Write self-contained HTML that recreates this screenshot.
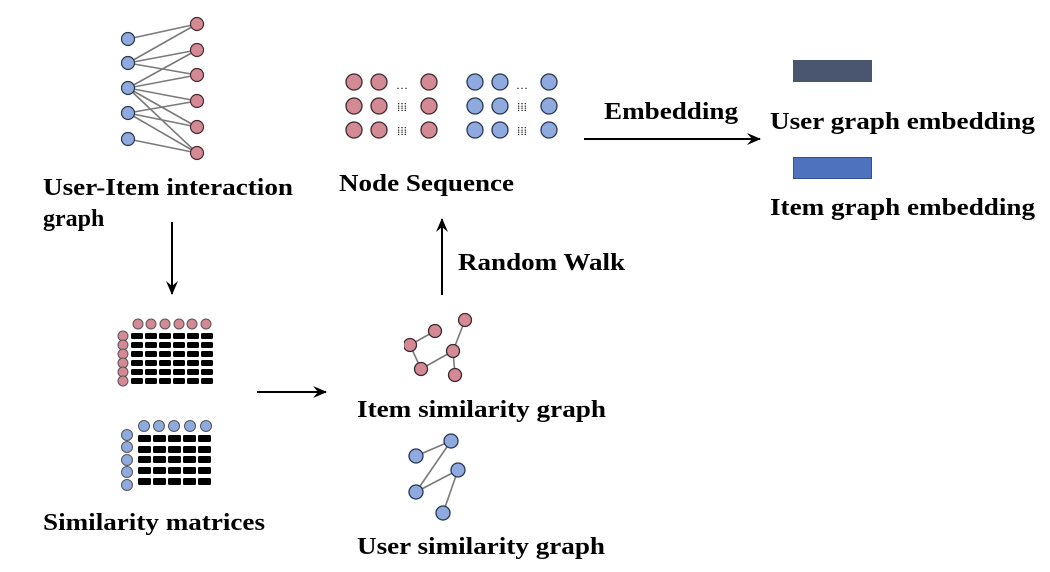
<!DOCTYPE html>
<html><head><meta charset="utf-8"><style>html,body{margin:0;padding:0;background:#fff}svg{display:block}</style></head>
<body>
<svg width="1050" height="572" viewBox="0 0 1050 572" xmlns="http://www.w3.org/2000/svg" font-family="Liberation Serif, serif" font-weight="bold" font-size="24">
<defs>
<marker id="ah" markerWidth="16" markerHeight="14" refX="13" refY="7" orient="auto" markerUnits="userSpaceOnUse">
<path d="M0,1 L14,7 L0,13 L5,7 Z" fill="#000"/>
</marker>
</defs>
<!-- bipartite -->
<g stroke="#7a7a7a" stroke-width="1.6">
<line x1="128" y1="39" x2="197" y2="24"/>
<line x1="128" y1="63" x2="197" y2="24"/>
<line x1="128" y1="63" x2="197" y2="50"/>
<line x1="128" y1="63" x2="197" y2="75"/>
<line x1="128" y1="88" x2="197" y2="50"/>
<line x1="128" y1="88" x2="197" y2="75"/>
<line x1="128" y1="88" x2="197" y2="101"/>
<line x1="128" y1="88" x2="197" y2="127"/>
<line x1="128" y1="88" x2="197" y2="153"/>
<line x1="128" y1="113" x2="197" y2="101"/>
<line x1="128" y1="113" x2="197" y2="127"/>
<line x1="128" y1="113" x2="197" y2="153"/>
<line x1="128" y1="139" x2="197" y2="153"/>
</g>
<g fill="#8eaadf" stroke="#2a3550" stroke-width="1.2">
<circle cx="128" cy="39" r="6.5"/><circle cx="128" cy="63" r="6.5"/><circle cx="128" cy="88" r="6.5"/><circle cx="128" cy="113" r="6.5"/><circle cx="128" cy="139" r="6.5"/>
</g>
<g fill="#d48a94" stroke="#4a2a2e" stroke-width="1.2">
<circle cx="197" cy="24" r="6.5"/><circle cx="197" cy="50" r="6.5"/><circle cx="197" cy="75" r="6.5"/><circle cx="197" cy="101" r="6.5"/><circle cx="197" cy="127" r="6.5"/><circle cx="197" cy="153" r="6.5"/>
</g>
<text x="43" y="195" textLength="250" lengthAdjust="spacingAndGlyphs">User-Item interaction</text>
<text x="43" y="226">graph</text>

<!-- node sequence -->
<g fill="#d48a94" stroke="#3a2a2c" stroke-width="1.3">
<circle cx="354" cy="82" r="8"/><circle cx="379" cy="82" r="8"/><circle cx="429" cy="82" r="8"/>
<circle cx="354" cy="106" r="8"/><circle cx="379" cy="106" r="8"/><circle cx="429" cy="106" r="8"/>
<circle cx="354" cy="130" r="8"/><circle cx="379" cy="130" r="8"/><circle cx="429" cy="130" r="8"/>
</g>
<g fill="#8eaadf" stroke="#2a3550" stroke-width="1.3">
<circle cx="475" cy="82" r="8"/><circle cx="500" cy="82" r="8"/><circle cx="549" cy="82" r="8"/>
<circle cx="475" cy="106" r="8"/><circle cx="500" cy="106" r="8"/><circle cx="549" cy="106" r="8"/>
<circle cx="475" cy="130" r="8"/><circle cx="500" cy="130" r="8"/><circle cx="549" cy="130" r="8"/>
</g>
<g font-size="12" font-weight="normal">
<text x="396" y="89">…</text><text x="397" y="111">⁞⁞⁞</text><text x="397" y="135">⁞⁞⁞</text>
<text x="516" y="89">…</text><text x="517" y="111">⁞⁞⁞</text><text x="517" y="135">⁞⁞⁞</text>
</g>
<text x="339" y="191" textLength="175" lengthAdjust="spacingAndGlyphs">Node Sequence</text>

<!-- embedding -->
<text x="604" y="119" textLength="134" lengthAdjust="spacingAndGlyphs">Embedding</text>
<line x1="584" y1="139" x2="760" y2="139" stroke="#000" stroke-width="2" marker-end="url(#ah)"/>
<rect x="793" y="60" width="79" height="22" fill="#4a5570"/>
<rect x="793.5" y="157.5" width="78" height="21" fill="#4e72bd" stroke="#34528f" stroke-width="1"/>
<text x="770" y="129" textLength="265" lengthAdjust="spacingAndGlyphs">User graph embedding</text>
<text x="770" y="215" textLength="265" lengthAdjust="spacingAndGlyphs">Item graph embedding</text>

<!-- arrows -->
<line x1="172" y1="222" x2="172" y2="294" stroke="#000" stroke-width="2" marker-end="url(#ah)"/>
<line x1="257" y1="392" x2="326" y2="392" stroke="#000" stroke-width="2" marker-end="url(#ah)"/>
<line x1="442" y1="295" x2="442" y2="219" stroke="#000" stroke-width="2" marker-end="url(#ah)"/>
<text x="458" y="270" textLength="167" lengthAdjust="spacingAndGlyphs">Random Walk</text>

<!-- matrices pink -->
<g fill="#d48a94" stroke="#555" stroke-width="1">
<circle cx="138" cy="324" r="5"/><circle cx="151" cy="324" r="5"/><circle cx="165" cy="324" r="5"/><circle cx="179" cy="324" r="5"/><circle cx="192" cy="324" r="5"/><circle cx="206" cy="324" r="5"/>
<circle cx="123" cy="336" r="5"/><circle cx="123" cy="345" r="5"/><circle cx="123" cy="354" r="5"/><circle cx="123" cy="363" r="5"/><circle cx="123" cy="372" r="5"/><circle cx="123" cy="381" r="5"/>
</g>
<g fill="#000">
<rect x="131" y="333" width="12" height="6" rx="1.5"/><rect x="145" y="333" width="12" height="6" rx="1.5"/><rect x="159" y="333" width="12" height="6" rx="1.5"/><rect x="173" y="333" width="12" height="6" rx="1.5"/><rect x="187" y="333" width="12" height="6" rx="1.5"/><rect x="201" y="333" width="12" height="6" rx="1.5"/>
<rect x="131" y="342" width="12" height="6" rx="1.5"/><rect x="145" y="342" width="12" height="6" rx="1.5"/><rect x="159" y="342" width="12" height="6" rx="1.5"/><rect x="173" y="342" width="12" height="6" rx="1.5"/><rect x="187" y="342" width="12" height="6" rx="1.5"/><rect x="201" y="342" width="12" height="6" rx="1.5"/>
<rect x="131" y="351" width="12" height="6" rx="1.5"/><rect x="145" y="351" width="12" height="6" rx="1.5"/><rect x="159" y="351" width="12" height="6" rx="1.5"/><rect x="173" y="351" width="12" height="6" rx="1.5"/><rect x="187" y="351" width="12" height="6" rx="1.5"/><rect x="201" y="351" width="12" height="6" rx="1.5"/>
<rect x="131" y="360" width="12" height="6" rx="1.5"/><rect x="145" y="360" width="12" height="6" rx="1.5"/><rect x="159" y="360" width="12" height="6" rx="1.5"/><rect x="173" y="360" width="12" height="6" rx="1.5"/><rect x="187" y="360" width="12" height="6" rx="1.5"/><rect x="201" y="360" width="12" height="6" rx="1.5"/>
<rect x="131" y="369" width="12" height="6" rx="1.5"/><rect x="145" y="369" width="12" height="6" rx="1.5"/><rect x="159" y="369" width="12" height="6" rx="1.5"/><rect x="173" y="369" width="12" height="6" rx="1.5"/><rect x="187" y="369" width="12" height="6" rx="1.5"/><rect x="201" y="369" width="12" height="6" rx="1.5"/>
<rect x="131" y="378" width="12" height="6" rx="1.5"/><rect x="145" y="378" width="12" height="6" rx="1.5"/><rect x="159" y="378" width="12" height="6" rx="1.5"/><rect x="173" y="378" width="12" height="6" rx="1.5"/><rect x="187" y="378" width="12" height="6" rx="1.5"/><rect x="201" y="378" width="12" height="6" rx="1.5"/>
<rect x="138" y="435" width="13" height="7" rx="1.5"/><rect x="153" y="435" width="13" height="7" rx="1.5"/><rect x="168" y="435" width="13" height="7" rx="1.5"/><rect x="183" y="435" width="13" height="7" rx="1.5"/><rect x="198" y="435" width="13" height="7" rx="1.5"/>
<rect x="138" y="446" width="13" height="7" rx="1.5"/><rect x="153" y="446" width="13" height="7" rx="1.5"/><rect x="168" y="446" width="13" height="7" rx="1.5"/><rect x="183" y="446" width="13" height="7" rx="1.5"/><rect x="198" y="446" width="13" height="7" rx="1.5"/>
<rect x="138" y="456" width="13" height="7" rx="1.5"/><rect x="153" y="456" width="13" height="7" rx="1.5"/><rect x="168" y="456" width="13" height="7" rx="1.5"/><rect x="183" y="456" width="13" height="7" rx="1.5"/><rect x="198" y="456" width="13" height="7" rx="1.5"/>
<rect x="138" y="467" width="13" height="7" rx="1.5"/><rect x="153" y="467" width="13" height="7" rx="1.5"/><rect x="168" y="467" width="13" height="7" rx="1.5"/><rect x="183" y="467" width="13" height="7" rx="1.5"/><rect x="198" y="467" width="13" height="7" rx="1.5"/>
<rect x="138" y="478" width="13" height="7" rx="1.5"/><rect x="153" y="478" width="13" height="7" rx="1.5"/><rect x="168" y="478" width="13" height="7" rx="1.5"/><rect x="183" y="478" width="13" height="7" rx="1.5"/><rect x="198" y="478" width="13" height="7" rx="1.5"/>
</g>
<g fill="#8eaadf" stroke="#555" stroke-width="1">
<circle cx="144" cy="426" r="5.5"/><circle cx="159" cy="426" r="5.5"/><circle cx="174" cy="426" r="5.5"/><circle cx="190" cy="426" r="5.5"/><circle cx="206" cy="426" r="5.5"/>
<circle cx="127" cy="435" r="5.5"/><circle cx="127" cy="447" r="5.5"/><circle cx="127" cy="460" r="5.5"/><circle cx="127" cy="472" r="5.5"/><circle cx="127" cy="485" r="5.5"/>
</g>
<text x="43" y="530" textLength="222" lengthAdjust="spacingAndGlyphs">Similarity matrices</text>

<!-- item similarity graph -->
<g stroke="#7a7a7a" stroke-width="1.6">
<line x1="410" y1="345" x2="435" y2="331"/><line x1="410" y1="345" x2="421" y2="369"/><line x1="421" y1="369" x2="453" y2="351"/><line x1="453" y1="351" x2="465" y2="320"/><line x1="453" y1="351" x2="455" y2="375"/>
</g>
<g fill="#d48a94" stroke="#3a2a2c" stroke-width="1.3">
<circle cx="410" cy="345" r="6.5"/><circle cx="435" cy="331" r="6.5"/><circle cx="465" cy="320" r="6.5"/><circle cx="453" cy="351" r="6.5"/><circle cx="421" cy="369" r="6.5"/><circle cx="455" cy="375" r="6.5"/>
</g>
<rect x="400" y="335" width="4" height="20" fill="#fff"/>
<text x="357" y="417" textLength="249" lengthAdjust="spacingAndGlyphs">Item similarity graph</text>

<!-- user similarity graph -->
<g stroke="#7a7a7a" stroke-width="1.6">
<line x1="416" y1="456" x2="451" y2="441"/><line x1="451" y1="441" x2="416" y2="492"/><line x1="416" y1="492" x2="458" y2="470"/><line x1="458" y1="470" x2="443" y2="513"/>
</g>
<g fill="#8eaadf" stroke="#2a3550" stroke-width="1.3">
<circle cx="416" cy="456" r="7"/><circle cx="451" cy="441" r="7"/><circle cx="458" cy="470" r="7"/><circle cx="416" cy="492" r="7"/><circle cx="443" cy="513" r="7"/>
</g>
<text x="357" y="554" textLength="248" lengthAdjust="spacingAndGlyphs">User similarity graph</text>
</svg>
</body></html>
